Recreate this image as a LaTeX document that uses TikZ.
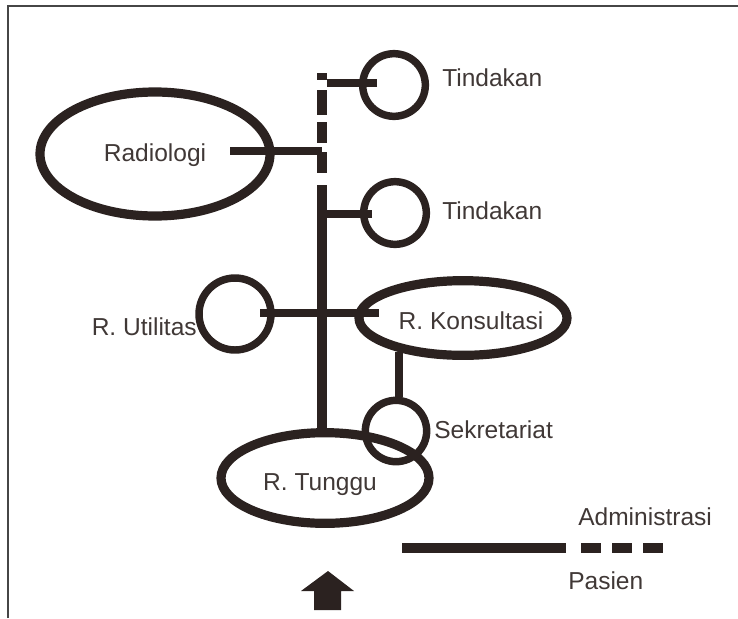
\documentclass[tikz,border=0pt]{standalone}
\usepackage{fontspec}
\setmainfont{Liberation Sans}
\usetikzlibrary{shapes.geometric}
\definecolor{ink}{RGB}{43,34,32}
\definecolor{frame}{RGB}{70,70,70}
\begin{document}
\begin{tikzpicture}[x=0.75pt,y=0.75pt,yscale=-1,xscale=1,
  room/.style={draw=ink,ellipse,line width=6.9pt,inner sep=0pt},
  unit/.style={draw=ink,circle,line width=5.6pt,inner sep=0pt},
  lbl/.style={inner sep=0.75pt,font=\fontsize{18.4}{22}\selectfont,text=ink!90},
  link/.style={draw=ink,line width=6.4pt}]
\useasboundingbox (0,0) rectangle (738,618);

%Frame
\draw [frame,line width=1.2pt] (8,618) -- (8,6) -- (738,6) ;

%Shape: Ellipse
\node [room,minimum width=172.5pt,minimum height=93pt] (radiologi) at (155,154) {};
\node [room,minimum width=156pt,minimum height=56pt] (konsultasi) at (463,318) {};
\node [room,minimum width=156pt,minimum height=68pt] (tunggu) at (325,478) {};
%Shape: Circle
\node [unit,minimum size=47pt] (tindakanA) at (394,85) {};
\node [unit,minimum size=47pt] (tindakanB) at (395,213) {};
\node [unit,minimum size=54pt] (utilitas) at (235,314) {};
\node [unit,minimum size=46pt] (sekretariat) at (396,431) {};

%Spine
\coordinate (top) at (322,73);
\coordinate (gap) at (322,185);
\draw [link,line width=7pt,dash pattern=on 5.25pt off 7.5pt on 18.75pt off 5.25pt on 15.75pt off 6.75pt on 15.75pt off 20pt] (top) -- (top |- 0,173) ;
\draw [link,line width=7pt] (gap) -- (gap |- tunggu.north) ;

%Straight Lines
\coordinate (rin) at (230,151);
\coordinate (ta) at (377,83);
\coordinate (tb) at (372,214);
\coordinate (ua) at (260,313);
\coordinate (kb) at (379,313);
\coordinate (ks) at (399,352);
\draw [link] (rin) -- (rin -| top) ;
\draw [link] (ta) -- (327,83) ;
\draw [link] (tb) -- (tb -| gap) ;
\draw [link] (ua) -- (kb) ;
\draw [link] (ks) -- (ks |- sekretariat.north) ;

% Text Node
\node [lbl] (radtext) at (155,155) {Radiologi};
\node [lbl] (konstext) at (471,321) {R. Konsultasi};
\node [lbl] (tunggutext) at (320,485) {R. Tunggu};
\node [lbl,anchor=west] (tindA) at (441,78) {Tindakan};
\node [lbl,anchor=west] (tindB) at (441,211) {Tindakan};
\node [lbl,anchor=east] (util) at (198,327) {R. Utilitas};
\node [lbl,anchor=west] (sekr) at (433,430) {Sekretariat};

%Legend
\coordinate (adm) at (402,548);
\coordinate (pas) at (581,548);
\draw [ink,line width=7.5pt] (adm) -- (566,548) ;
\draw [ink,line width=7pt,dash pattern=on 15pt off 8.25pt] (pas) -- (663,548) ;
\node [lbl,anchor=west] (admtext) at (577,517) {Administrasi};
\node [lbl,anchor=west] (pastext) at (567,581) {Pasien};

%Shape: Entrance arrow
\fill [ink] (301,591) -- (328,571) -- (354,591) -- (341,591) -- (341,610) -- (314,610) -- (314,591) -- cycle ;

\end{tikzpicture}
\end{document}
